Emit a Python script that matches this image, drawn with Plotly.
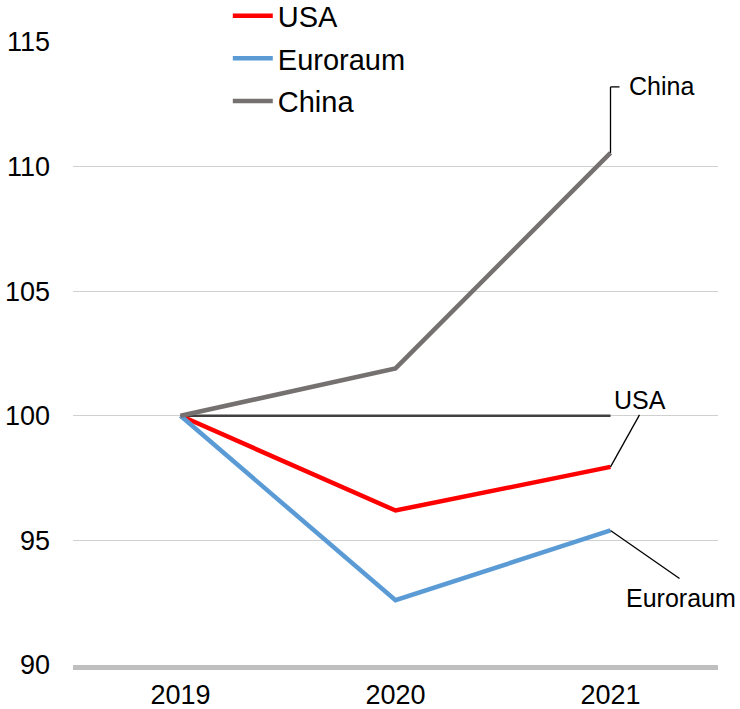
import plotly.graph_objects as go

# Index values (2019 = 100)
years = ["2019", "2020", "2021"]
usa = [100.0, 96.2, 97.95]
euroraum = [100.0, 92.6, 95.4]
china = [100.0, 101.9, 110.55]
baseline = [100.0, 100.0, 100.0]
y_ticks = [90, 95, 100, 105, 110, 115]

xpos = list(range(len(years)))

FONT = "Liberation Sans, Arial, sans-serif"
RED = "#ff0000"
BLUE = "#5b9bd5"
GRAY = "#767171"

fig = go.Figure()

# reference line at 100
fig.add_trace(go.Scatter(x=xpos, y=baseline, mode="lines",
                         line=dict(color="#404040", width=2.5),
                         showlegend=False, hoverinfo="skip"))

fig.add_trace(go.Scatter(x=xpos, y=usa, mode="lines", name="USA",
                         legendgroup="usa",
                         line=dict(color=RED, width=4.5)))
fig.add_trace(go.Scatter(x=xpos, y=euroraum, mode="lines", name="Euroraum",
                         legendgroup="euro",
                         line=dict(color=BLUE, width=4.5)))
fig.add_trace(go.Scatter(x=xpos, y=china, mode="lines", name="China",
                         legendgroup="china",
                         line=dict(color=GRAY, width=4.5)))

last = xpos[-1]
leader = dict(color="black", width=1.3)

# leader lines from the last points (pixel offsets relative to the point)
def pix_line(xa, ya, x0, y0, x1, y1):
    fig.add_shape(type="line", xref="x", yref="y",
                  xsizemode="pixel", ysizemode="pixel",
                  xanchor=xa, yanchor=ya,
                  x0=x0, y0=y0, x1=x1, y1=y1, line=leader)

pix_line(last, china[-1], 0, 0, 0, 66)
pix_line(last, china[-1], 0, 66, 9, 66)
pix_line(last, usa[-1], 0, 0, 29, 52)
pix_line(last, euroraum[-1], 0, 0, 69, -48)

lab_font = dict(family=FONT, size=25, color="black")
fig.add_annotation(x=last, y=china[-1], text="China", showarrow=False,
                   xanchor="left", yanchor="middle", xshift=16, yshift=67,
                   font=lab_font)
fig.add_annotation(x=last, y=usa[-1], text="USA", showarrow=False,
                   xanchor="center", yanchor="bottom", xshift=29, yshift=51,
                   font=lab_font)
fig.add_annotation(x=last, y=euroraum[-1], text="Euroraum", showarrow=False,
                   xanchor="center", yanchor="middle", xshift=70, yshift=-68,
                   font=lab_font)

fig.update_layout(
    width=740, height=709,
    margin=dict(l=73, r=22, t=42, b=44, autoexpand=False),
    plot_bgcolor="white", paper_bgcolor="white",
    font=dict(family=FONT, size=27, color="black"),
    showlegend=True,
    legend=dict(x=0.24, y=1.083, xanchor="left", yanchor="top",
                bgcolor="rgba(0,0,0,0)", font=dict(family=FONT, size=29),
                itemwidth=40, traceorder="grouped", tracegroupgap=2),
    xaxis=dict(range=[-0.5, 2.5], tickvals=xpos, ticktext=years,
               showgrid=False, zeroline=False, automargin=False,
               showline=True, linecolor="#bfbfbf", linewidth=5,
               ticks="", ticklabelstandoff=2,
               tickfont=dict(family=FONT, size=27, color="black")),
    yaxis=dict(range=[90, 115], tickvals=y_ticks, showgrid=True,
               gridcolor="#d0d0d0", gridwidth=1, zeroline=False,
               automargin=False,
               showline=False, ticks="", ticklabelstandoff=22,
               tickfont=dict(family=FONT, size=27, color="black")),
)

fig.write_html("out.html")
